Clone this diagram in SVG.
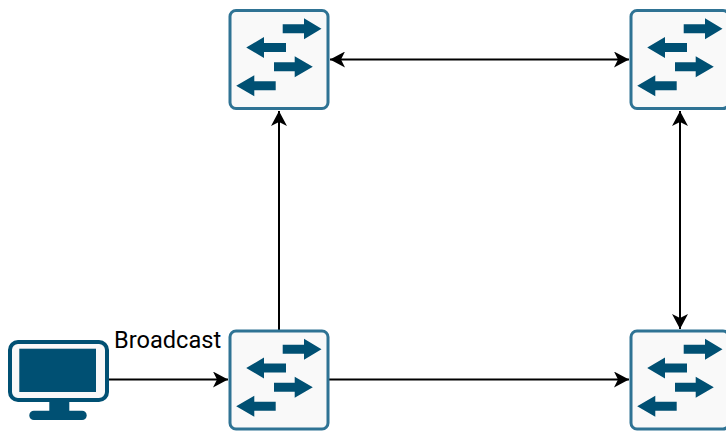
<svg xmlns="http://www.w3.org/2000/svg" xmlns:xlink="http://www.w3.org/1999/xlink" width="726" height="432" viewBox="0 0 726 432">
<style>
.conn{fill:none;stroke:#000;stroke-width:2}
.box{fill:#f9f9f9;stroke:#2f7394;stroke-width:3}
.ink{fill:#005073}
.lbl{font-family:Roboto,"Liberation Sans",sans-serif;font-size:23.6px;fill:#000}
</style>
<defs>
<marker id="a" viewBox="0 0 16 16" refX="15" refY="8" markerWidth="16" markerHeight="16" markerUnits="userSpaceOnUse" orient="auto-start-reverse"><path d="M0 0L15 8L0 16L4 8Z" fill="#000"/></marker>
<g id="sw">
<rect class="box" x="1" y="1" width="98" height="98" rx="6"/>
<path class="ink" d="M53.7 14.8H75V8.8L92.5 19.3L75 29.8V23.8H53.7Z"/>
<path class="ink" d="M17.2 38L35 27.5V33.5H57V42.5H35V48.5Z"/>
<path class="ink" d="M45 52.8H65.7V46.8L83.8 57.3L65.7 67.8V61.8H45Z"/>
<path class="ink" d="M7.2 76.3L25.3 65.8V71.8H46.7V80.8H25.3V86.8Z"/>
</g>
</defs>
<g id="connectors">
<path class="conn" marker-start="url(#a)" marker-end="url(#a)" d="M330 59.5H629"/>
<path class="conn" marker-start="url(#a)" marker-end="url(#a)" d="M680 111V329"/>
<path class="conn" marker-end="url(#a)" d="M279 330V111"/>
<path class="conn" marker-end="url(#a)" d="M329 379.5H629"/>
<path class="conn" marker-end="url(#a)" d="M109 379.5H228"/>
</g>
<g id="switch-top-left"><use href="#sw" x="229" y="9.5"/></g>
<g id="switch-top-right"><use href="#sw" x="630" y="9.5"/></g>
<g id="switch-bottom-left"><use href="#sw" x="229" y="330"/></g>
<g id="switch-bottom-right"><use href="#sw" x="630" y="330"/></g>
<g id="computer">
<rect x="10" y="342" width="97" height="58" rx="8" fill="#f9f9f9" stroke="#005073" stroke-width="4"/>
<rect class="ink" x="19.3" y="348.7" width="76.7" height="43.3"/>
<rect class="ink" x="49.3" y="401" width="20" height="11"/>
<rect class="ink" x="29.3" y="410.7" width="57.4" height="9.3" rx="4.6"/>
</g>
<text class="lbl" x="114" y="348">Broadcast</text>
</svg>
